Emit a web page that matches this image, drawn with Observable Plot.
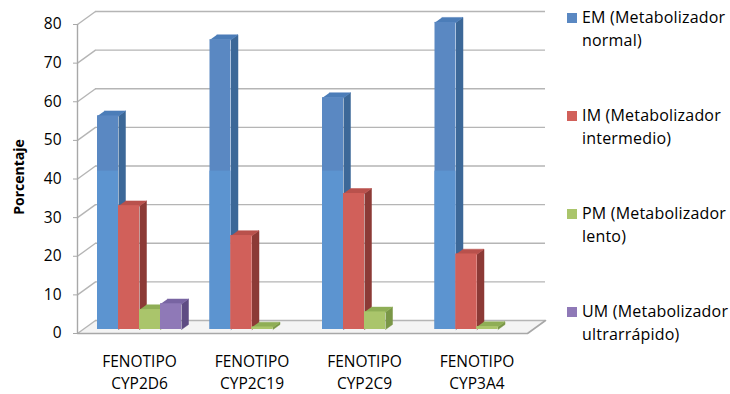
<!DOCTYPE html>
<html>
<head>
<meta charset="utf-8">
<script src="https://cdn.jsdelivr.net/npm/d3@7"></script>
<script src="https://cdn.jsdelivr.net/npm/@observablehq/plot@0.6"></script>
<style>
  html, body { margin: 0; padding: 0; background: #fff; }
  #wrap { position: relative; width: 730px; height: 394px; font-family: "Open Sans", sans-serif; }
  #legend { position: absolute; left: 567px; top: 6px; }
  .item { display: flex; align-items: flex-start; height: 98px; }
  .sw { width: 10px; height: 10px; margin-top: 7px; margin-right: 5px; flex: none; }
  .lab { font-size: 16px; line-height: 23px; color: #000; white-space: nowrap; letter-spacing: 0.2px; }
</style>
</head>
<body>
<div id="wrap"><div id="chart"></div><div id="legend"></div></div>
<script>
// Fenotipos metabolizadores por enzima (%)
const categories = ["CYP2D6", "CYP2C19", "CYP2C9", "CYP3A4"];
const categoryPrefix = "FENOTIPO";
const seriesNames = [
  "EM (Metabolizador normal)",
  "IM (Metabolizador intermedio)",
  "PM (Metabolizador lento)",
  "UM (Metabolizador ultrarrápido)"
];
const emValues = [55.3, 75, 60, 79.5];
const imValues = [32, 24.3, 35.2, 19.5];
const pmValues = [5.1, 0.6, 4.5, 0.7];
const umValues = [6.6, 0, 0, 0];
const yTicks = [0, 10, 20, 30, 40, 50, 60, 70, 80];
const yLabel = "Porcentaje";

const seriesValues = [emValues, imValues, pmValues, umValues];
// front / side / top face colours for each series
const faceColors = [
  {front: "#5a88c2", low: "#5c94d0", side: "#3c6898", top: "#4c7db8"},
  {front: "#d1605a", low: "#d1605a", side: "#8c3a36", top: "#b9514c"},
  {front: "#aac56b", low: "#aac56b", side: "#7a9747", top: "#8fae56"},
  {front: "#8f79b7", low: "#8f79b7", side: "#5e4c83", top: "#7864a2"}
];

// pseudo-3D layout, in scale units (x: category index, y: percent)
const W = 545, H = 394;
const mL = 77, mR = 18, mT = 24, mB = 61;
const kx = (W - mL - mR) / categories.length;   // px per category
const ky = (H - mT - mB) / 80;                  // px per percent
const wallDx = 18 / kx, wallDy = 13 / ky;       // back wall offset
const barDx = 7 / kx, barDy = 5 / ky;           // bar depth
const barBase = 4 / ky;                         // bars stand mid-floor
const barStart = 20 / kx, barW = 21 / kx;       // within a category band
const lowSplit = 41;                            // reflection line on tall bars

// frame: floor, left wall diagonals, back wall gridlines
const floor = [
  {x: 0, y: 0}, {x: categories.length, y: 0},
  {x: categories.length + wallDx, y: wallDy}, {x: wallDx, y: wallDy}
];
const grid = yTicks.map(t => ({t}));

function barFaces(j) {
  const faces = {front: [], low: [], side: [], top: []};
  seriesValues[j].forEach((v, i) => {
    if (!(v > 0)) return; // nothing drawn for an empty category
    const x1 = i + barStart + j * barW, x2 = x1 + barW;
    const b = barBase, t = barBase + v;
    faces.front.push({x1, x2, y1: b, y2: t});
    faces.low.push({x1, x2, y1: b, y2: barBase + Math.min(v, lowSplit)});
    const id = `${j}-${i}`;
    faces.side.push(
      {id, x: x2, y: b}, {id, x: x2 + barDx, y: b + barDy},
      {id, x: x2 + barDx, y: t + barDy}, {id, x: x2, y: t}
    );
    faces.top.push(
      {id, x: x1, y: t}, {id, x: x2, y: t},
      {id, x: x2 + barDx, y: t + barDy}, {id, x: x1 + barDx, y: t + barDy}
    );
  });
  return faces;
}

const barMarks = [];
seriesValues.forEach((_, j) => {
  const f = barFaces(j), c = faceColors[j];
  barMarks.push(
    Plot.line(f.side, {x: "x", y: "y", z: "id", fill: c.side, stroke: c.side, strokeWidth: 0.5}),
    Plot.line(f.top, {x: "x", y: "y", z: "id", fill: c.top, stroke: c.top, strokeWidth: 0.5}),
    Plot.rect(f.front, {x1: "x1", x2: "x2", y1: "y1", y2: "y2", fill: c.front}),
    Plot.rect(f.low, {x1: "x1", x2: "x2", y1: "y1", y2: "y2", fill: c.low})
  );
});

const chart = Plot.plot({
  width: W,
  height: H,
  marginLeft: mL,
  marginRight: mR,
  marginTop: mT,
  marginBottom: mB,
  x: {type: "linear", domain: [0, categories.length], axis: null},
  y: {domain: [0, 80], axis: null},
  style: {fontFamily: "'Open Sans', sans-serif", overflow: "visible", color: "#000"},
  marks: [
    // floor
    Plot.line(floor, {x: "x", y: "y", fill: "#f4f4f4", stroke: "none"}),
    // back wall gridlines
    Plot.ruleY(grid, {y: d => d.t + wallDy, x1: wallDx, x2: categories.length + wallDx,
                      stroke: "#b5b5b5", strokeWidth: 1.4, strokeOpacity: 1}),
    // left wall diagonals
    Plot.link(grid, {x1: 0, y1: "t", x2: wallDx, y2: d => d.t + wallDy,
                     stroke: "#b5b5b5", strokeWidth: 1.4}),
    // floor front edge and right edge
    Plot.line([{x: 0, y: 0}, {x: categories.length, y: 0}, {x: categories.length + wallDx, y: wallDy}],
              {x: "x", y: "y", stroke: "#a8a8a8", strokeWidth: 1.6}),
    // front value axis
    Plot.ruleX([0], {y1: 0, y2: 80, stroke: "#a8a8a8", strokeWidth: 1.4}),
    Plot.axisY(yTicks, {tickSize: 4, tickPadding: 12, fontSize: 15.5, stroke: "#a8a8a8", color: "#000"}),
    ...barMarks,
    // category labels
    Plot.text(categories, {
      x: (d, i) => i + barStart + 2 * barW,
      y: 0,
      text: d => `${categoryPrefix}\n${d}`,
      dy: 18,
      lineAnchor: "top",
      lineHeight: 1.42,
      fontSize: 15.5,
      fill: "#000"
    }),
    // value axis title
    Plot.text([yLabel], {frameAnchor: "left", textAnchor: "middle", rotate: -90, dx: -58, dy: -2,
                         fontWeight: "bold", fontSize: 14, fill: "#000"})
  ]
});
document.getElementById("chart").appendChild(chart);

// legend
const legend = document.getElementById("legend");
seriesNames.forEach((name, j) => {
  const cut = name.lastIndexOf(" ");
  const item = document.createElement("div");
  item.className = "item";
  item.innerHTML = `<div class="sw" style="background:${faceColors[j].front}"></div>` +
    `<div class="lab">${name.slice(0, cut)}<br>${name.slice(cut + 1)}</div>`;
  legend.appendChild(item);
});
</script>
</body>
</html>
